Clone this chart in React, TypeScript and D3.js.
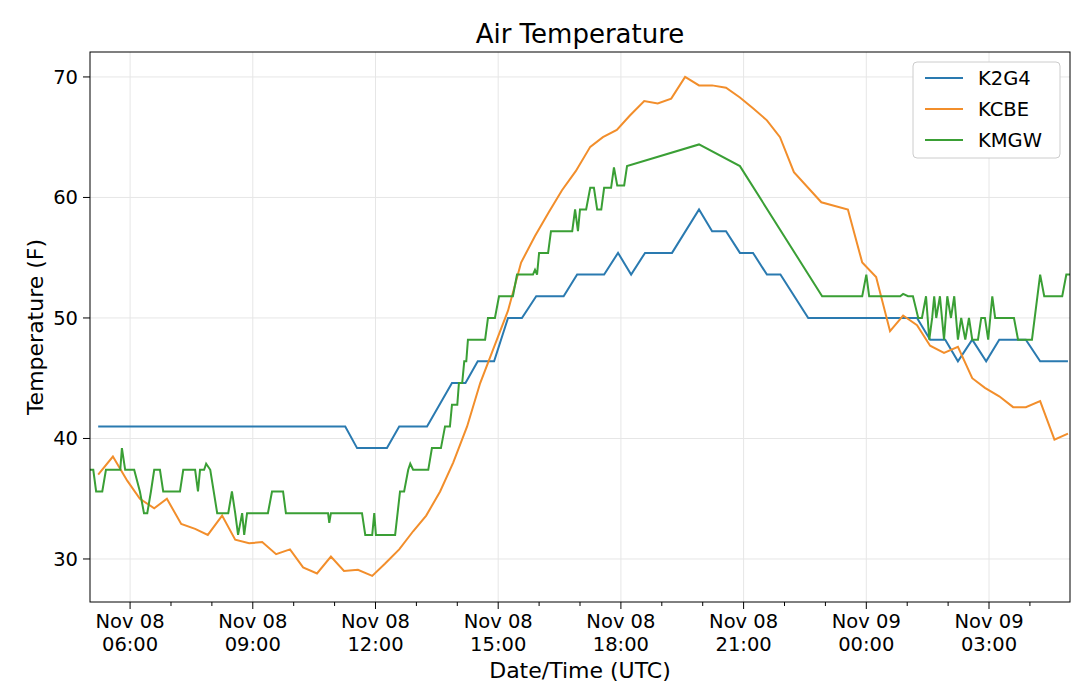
import React from "react";
import * as d3 from "d3";

const k2g4H = [5.22,11.26,11.55,12.28,12.58,13.26,13.87,14.2,14.5,14.9,15.24,15.58,15.93,16.6,16.93,17.59,17.93,18.25,18.59,19.25,19.91,20.23,20.57,20.91,21.23,21.57,21.9,22.58,25.24,25.56,25.93,26.24,26.59,26.93,27.25,27.9,28.25,28.93];
const k2g4V = [41,41,39.2,39.2,41,41,44.6,44.6,46.4,46.4,50,50,51.8,51.8,53.6,53.6,55.4,53.6,55.4,55.4,59,57.2,57.2,55.4,55.4,53.6,53.6,50,50,48.2,48.2,46.4,48.2,46.4,48.2,48.2,46.4,46.4];

const kcbeH = [5.22,5.58,5.93,6.24,6.59,6.9,7.25,7.59,7.9,8.25,8.57,8.91,9.23,9.57,9.91,10.23,10.57,10.91,11.23,11.57,11.92,12.23,12.58,12.92,13.24,13.58,13.9,14.24,14.56,14.9,15.24,15.56,15.9,16.24,16.56,16.9,17.25,17.56,17.9,18.22,18.57,18.9,19.23,19.57,19.91,20.23,20.57,20.91,21.23,21.57,21.89,22.23,22.9,23.55,23.9,24.24,24.58,24.9,25.24,25.56,25.9,26.24,26.59,26.9,27.25,27.59,27.9,28.25,28.6,28.93];
const kcbeV = [37,38.5,36.5,35,34.2,35,32.9,32.5,32,33.6,31.6,31.3,31.4,30.4,30.8,29.3,28.8,30.2,29,29.1,28.6,29.6,30.8,32.3,33.6,35.6,38,41,44.6,47.6,50.6,54.6,56.8,58.8,60.6,62.2,64.2,65,65.6,66.8,68,67.8,68.2,70,69.3,69.3,69.1,68.3,67.4,66.4,65,62.1,59.6,59,54.6,53.4,48.9,50.2,49.4,47.7,47.1,47.6,45,44.2,43.5,42.6,42.6,43.1,39.9,40.4];

const kmgwH = [5.02,5.1,5.17,5.32,5.41,5.76,5.8,5.88,6.1,6.24,6.34,6.42,6.51,6.59,6.73,6.81,6.93,7.22,7.3,7.59,7.66,7.71,7.81,7.86,7.96,8.13,8.4,8.49,8.57,8.64,8.74,8.79,8.86,9.37,9.47,9.74,9.81,10.84,10.87,10.91,11.67,11.75,11.92,11.97,12.01,12.48,12.6,12.7,12.8,12.85,12.92,13.29,13.38,13.6,13.7,13.82,13.87,14.0,14.04,14.12,14.17,14.22,14.26,14.68,14.75,14.92,15.02,15.36,15.46,15.85,15.9,15.95,16.0,16.22,16.29,16.81,16.88,16.95,17.0,17.15,17.25,17.34,17.42,17.52,17.59,17.76,17.83,17.91,18.08,18.15,19.91,20.91,22.92,23.9,24.0,24.07,24.83,24.9,25.02,25.14,25.27,25.36,25.46,25.54,25.61,25.66,25.71,25.8,25.9,25.98,26.07,26.15,26.24,26.32,26.42,26.51,26.59,26.73,26.81,26.9,26.98,27.08,27.15,27.61,27.71,28.05,28.25,28.35,28.79,28.89,28.98];
const kmgwV = [37.4,37.4,35.6,35.6,37.4,37.4,39.2,37.4,37.4,35.6,33.8,33.8,35.6,37.4,37.4,35.6,35.6,35.6,37.4,37.4,35.6,37.4,37.4,37.9,37.4,33.8,33.8,35.6,33.8,32,33.8,32,33.8,33.8,35.6,35.6,33.8,33.8,33,33.8,33.8,32,32,33.8,32,32,35.6,35.6,37.4,37.9,37.4,37.4,39.2,39.2,41,41,42.8,42.8,44.6,44.6,46.4,46.4,48.2,48.2,50,50,51.8,51.8,53.6,53.6,54,53.6,55.4,55.4,57.2,57.2,59,57.2,59,59,60.8,60.8,59,59,60.8,60.8,62.5,61,61,62.6,64.4,62.6,51.8,51.8,53.6,51.8,51.8,52,51.8,51.8,50,50,51.8,48.2,50,51.8,50,51.8,48.2,51.8,50,51.8,48.2,50,48.2,50,48.2,48.2,50,50,48.2,51.8,50,50,48.2,48.2,53.6,51.8,51.8,53.6,53.6];

const seriesNames = ["K2G4", "KCBE", "KMGW"];
const colors = ["#2a7ab0", "#f28e2b", "#3a9f35"];
const yTicks = [30, 40, 50, 60, 70];

const base = new Date(2020, 10, 8, 0, 0);
const t = (h: number) => new Date(base.getTime() + h * 3600000);

export default function App() {
  const L = 90, R = 1070, T = 52, B = 602;
  const x = d3.scaleTime().domain([t(5.02), t(28.98)]).range([L, R]);
  const y = d3.scaleLinear().domain([26.43, 72.07]).range([B, T]);
  const data = [[k2g4H, k2g4V], [kcbeH, kcbeV], [kmgwH, kmgwV]];
  const line = d3.line<[number, number]>().x(d => x(t(d[0]))).y(d => y(d[1]));
  const major = d3.range(6, 29, 3);
  const minor = d3.range(6, 29, 1).filter(h => h % 3 !== 0);
  const font = "DejaVu Sans";
  return (
    <svg width={1080} height={697} style={{ position: "absolute", left: 0, top: 0 }} fontFamily={font}>
      <rect width={1080} height={697} fill="#fff" />
      {major.map(h => <line key={"g" + h} x1={x(t(h))} x2={x(t(h))} y1={T} y2={B} stroke="#e6e6e6" />)}
      {yTicks.map(v => <line key={"gy" + v} x1={L} x2={R} y1={y(v)} y2={y(v)} stroke="#e6e6e6" />)}
      {data.map((d, i) => (
        <path key={i} d={line(d[0].map((h, j) => [h, d[1][j]] as [number, number]))!} fill="none" stroke={colors[i]} strokeWidth={2} />
      ))}
      <rect x={L} y={T} width={R - L} height={B - T} fill="none" stroke="#000" strokeWidth={1} />
      {major.map(h => {
        const xx = x(t(h));
        const d = t(h);
        const day = d.getDate() === 8 ? "Nov 08" : "Nov 09";
        const hh = d3.timeFormat("%H:%M")(d);
        return (
          <g key={"m" + h}>
            <line x1={xx} x2={xx} y1={B} y2={B + 7} stroke="#000" />
            <text x={xx} y={B + 26} textAnchor="middle" fontSize={19.5}>{day}</text>
            <text x={xx} y={B + 49} textAnchor="middle" fontSize={19.5}>{hh}</text>
          </g>
        );
      })}
      {minor.map(h => <line key={"n" + h} x1={x(t(h))} x2={x(t(h))} y1={B} y2={B + 4} stroke="#000" />)}
      {yTicks.map(v => (
        <g key={"y" + v}>
          <line x1={L - 7} x2={L} y1={y(v)} y2={y(v)} stroke="#000" />
          <text x={L - 12} y={y(v) + 7} textAnchor="end" fontSize={19.5}>{v}</text>
        </g>
      ))}
      <text x={580} y={43} textAnchor="middle" fontSize={26}>Air Temperature</text>
      <text x={580} y={678} textAnchor="middle" fontSize={22}>Date/Time (UTC)</text>
      <text transform={`translate(43,${(T + B) / 2}) rotate(-90)`} textAnchor="middle" fontSize={22}>Temperature (F)</text>
      <rect x={913} y={62} width={147} height={96} rx={4} fill="#fff" stroke="#ccc" />
      {seriesNames.map((n, i) => (
        <g key={n}>
          <line x1={925} x2={963} y1={78 + i * 31} y2={78 + i * 31} stroke={colors[i]} strokeWidth={2} />
          <text x={978} y={85 + i * 31} fontSize={19.5}>{n}</text>
        </g>
      ))}
    </svg>
  );
}
